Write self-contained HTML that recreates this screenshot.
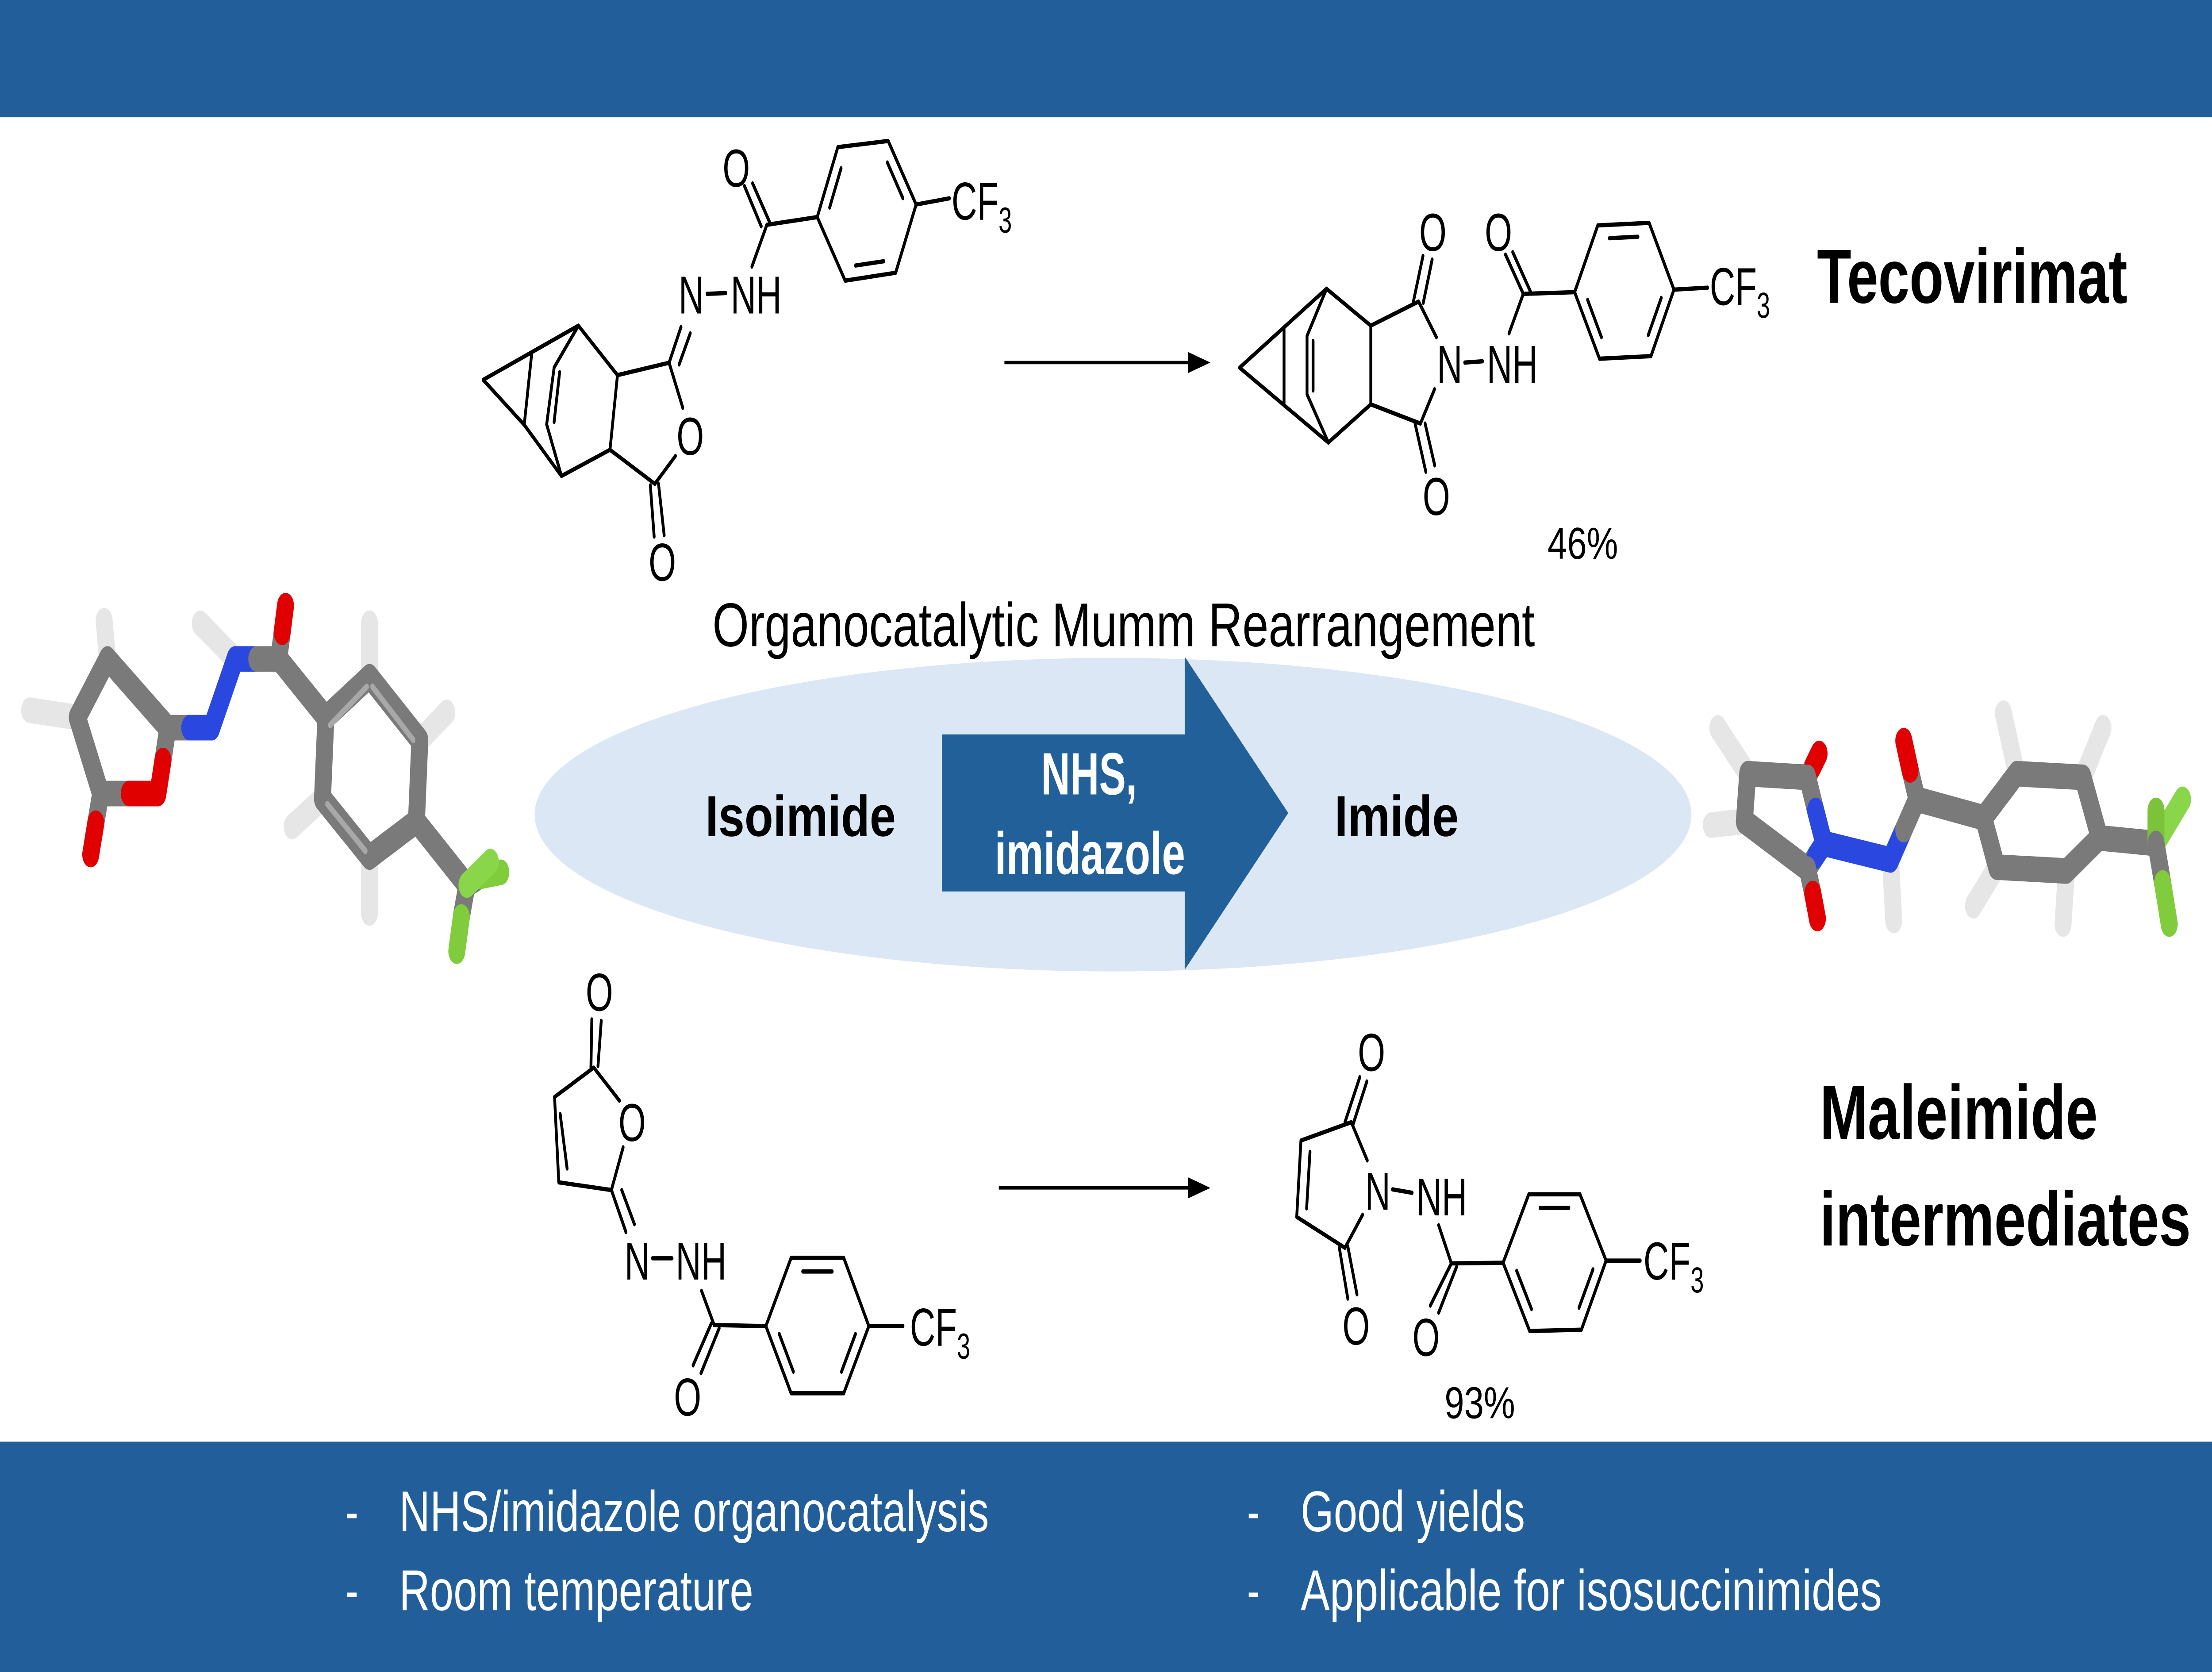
<!DOCTYPE html>
<html><head><meta charset="utf-8"><style>
html,body{margin:0;padding:0;background:#fff;width:100%;height:100%;overflow:hidden;}
svg{display:block;width:100vw;height:100vh;}
text{font-family:"Liberation Sans",Arial,sans-serif;}
</style></head><body>
<svg viewBox="0 0 1568 784" preserveAspectRatio="none" xmlns="http://www.w3.org/2000/svg">
<rect x="0" y="0" width="1568" height="784" fill="#fff"/>
<rect x="0" y="0" width="1568" height="55" fill="#225f9a"/>
<rect x="0" y="676" width="1568" height="108" fill="#225f9a"/>

<ellipse cx="789" cy="382" rx="410" ry="73.5" fill="#dbe7f4"/>
<polygon points="667.8,344.4 839.8,344.4 839.8,307.9 913.2,381.2 839.8,454.7 839.8,418 667.8,418" fill="#22609a"/>
<text x="772" y="372.5" font-size="28" font-weight="bold" fill="#fff" text-anchor="middle" textLength="68" lengthAdjust="spacingAndGlyphs">NHS,</text>
<text x="772.6" y="409.8" font-size="28" font-weight="bold" fill="#fff" text-anchor="middle" textLength="135" lengthAdjust="spacingAndGlyphs">imidazole</text>
<text x="500" y="392" font-size="27" font-weight="bold" fill="#000" textLength="135" lengthAdjust="spacingAndGlyphs">Isoimide</text>
<text x="946" y="392" font-size="27" font-weight="bold" fill="#000" textLength="88" lengthAdjust="spacingAndGlyphs">Imide</text>
<text x="505" y="303" font-size="29" fill="#000" textLength="583" lengthAdjust="spacingAndGlyphs">Organocatalytic Mumm Rearrangement</text>

<text x="1288" y="142" font-size="36" font-weight="bold" fill="#000" textLength="220" lengthAdjust="spacingAndGlyphs">Tecovirimat</text>
<text x="1290" y="534" font-size="36" font-weight="bold" fill="#000" textLength="197" lengthAdjust="spacingAndGlyphs">Maleimide</text>
<text x="1290" y="584" font-size="36" font-weight="bold" fill="#000" textLength="263" lengthAdjust="spacingAndGlyphs">intermediates</text>

<text x="1097" y="262" font-size="21" fill="#000" textLength="50" lengthAdjust="spacingAndGlyphs">46%</text>
<text x="1024" y="665" font-size="21" fill="#000" textLength="50" lengthAdjust="spacingAndGlyphs">93%</text>

<g fill="#fff" font-size="27">
<text x="245" y="718">-</text>
<text x="283" y="718" textLength="418" lengthAdjust="spacingAndGlyphs">NHS/imidazole organocatalysis</text>
<text x="245" y="755">-</text>
<text x="283" y="755" textLength="251" lengthAdjust="spacingAndGlyphs">Room temperature</text>
<text x="884" y="718">-</text>
<text x="922" y="718" textLength="159" lengthAdjust="spacingAndGlyphs">Good yields</text>
<text x="884" y="755">-</text>
<text x="922" y="755" textLength="412" lengthAdjust="spacingAndGlyphs">Applicable for isosuccinimides</text>
</g>

<g stroke="#000" stroke-width="1.6">
<line x1="712" y1="170" x2="846" y2="170"/>
<line x1="708" y1="557" x2="846" y2="557"/>
</g>
<polygon points="858,170 842,165 842,175" fill="#000"/>
<polygon points="858,557 842,552 842,562" fill="#000"/>

<!-- Molecule 1 -->
<g stroke="#000" stroke-width="2" fill="none" stroke-linecap="round" stroke-linejoin="round">
<polygon points="579.3,101.8 593.9,69 629.6,66.1 649.4,95.9 634.9,127.9 599.1,131.6"/>
<line x1="588.1" y1="97.3" x2="596.2" y2="78.9"/>
<line x1="629" y1="76.2" x2="640" y2="92.9"/>
<line x1="626.5" y1="122.5" x2="606.5" y2="124.5"/>
<line x1="649.4" y1="95.9" x2="673" y2="93"/>
<line x1="579.3" y1="101.8" x2="543.6" y2="105.4"/>
<line x1="527.7" y1="87.2" x2="539.6" y2="106.1"/>
<line x1="533.5" y1="86" x2="545.7" y2="104.4"/>
<line x1="543.6" y1="105.4" x2="533" y2="125"/>
<line x1="501.2" y1="137.8" x2="514.5" y2="137.4"/>
<line x1="482.7" y1="153.4" x2="474.3" y2="170.1"/>
<line x1="489.3" y1="156.3" x2="481.4" y2="170.9"/>
<line x1="474.3" y1="170.1" x2="437.7" y2="175.9"/>
<line x1="474.3" y1="170.1" x2="484" y2="191.2"/>
<line x1="478.8" y1="213.8" x2="464.2" y2="226.9"/>
<line x1="461" y1="227.6" x2="463.7" y2="251.6"/>
<line x1="466.8" y1="226.9" x2="470.8" y2="250.9"/>
<line x1="437.7" y1="175.9" x2="432.4" y2="210.9"/>
<line x1="432.4" y1="210.9" x2="464.2" y2="226.9"/>
<line x1="437.7" y1="175.9" x2="410" y2="152.7"/>
<line x1="432.4" y1="210.9" x2="398" y2="223.2"/>
<polyline points="410,152.7 392.8,172.3 387.5,199 398,223.2"/>
<line x1="396.7" y1="174.5" x2="392.8" y2="197.8"/>
<line x1="410" y1="152.7" x2="342.5" y2="178.1"/>
<line x1="342.5" y1="178.1" x2="371.6" y2="199.2"/>
<line x1="371.6" y1="199.2" x2="376.9" y2="165.8"/>
<line x1="371.6" y1="199.2" x2="398" y2="223.2"/>
</g>
<g font-size="25" fill="#000" text-anchor="middle">
<text x="521.9" y="87.5">O</text>
<text x="490" y="147">N</text>
<text x="536" y="147">NH</text>
<text x="489.3" y="213.3">O</text>
<text x="469.5" y="272.3">O</text>
<text x="674.5" y="103" text-anchor="start">CF<tspan font-size="17" dy="6">3</tspan></text>
</g>

<!-- Molecule 2 -->
<g stroke="#000" stroke-width="2" fill="none" stroke-linecap="round" stroke-linejoin="round">
<line x1="878.7" y1="172.4" x2="940.3" y2="135.4"/>
<line x1="878.7" y1="172.4" x2="941.6" y2="207.5"/>
<line x1="910.2" y1="153.9" x2="910.2" y2="189"/>
<polyline points="940.3,135.4 926.5,157.5 926.5,184.9 941.6,207.5"/>
<line x1="930.8" y1="159.9" x2="930.8" y2="183.1"/>
<line x1="940.3" y1="135.4" x2="971.7" y2="152.7"/>
<line x1="941.6" y1="207.5" x2="971.7" y2="189.6"/>
<line x1="971.7" y1="152.7" x2="971.7" y2="189.6"/>
<line x1="971.7" y1="152.7" x2="1005.6" y2="141.4"/>
<line x1="971.7" y1="189.6" x2="1006.9" y2="198.6"/>
<line x1="1005.6" y1="141.4" x2="1018.2" y2="158.1"/>
<line x1="1006.9" y1="198.6" x2="1016.9" y2="182.5"/>
<line x1="1001.9" y1="141.4" x2="1008.7" y2="120"/>
<line x1="1008.9" y1="142" x2="1015.2" y2="121.7"/>
<line x1="1003.1" y1="198.6" x2="1010.7" y2="221.2"/>
<line x1="1010.2" y1="198.6" x2="1017" y2="218.2"/>
<line x1="1038.3" y1="170" x2="1050.9" y2="169.4"/>
<line x1="1069.7" y1="156.3" x2="1079.8" y2="137.8"/>
<line x1="1067.2" y1="119.4" x2="1079.8" y2="137.8"/>
<line x1="1072.3" y1="118.2" x2="1084.8" y2="136.6"/>
<line x1="1079.8" y1="137.8" x2="1116.2" y2="137"/>
<polygon points="1116.2,137 1132.6,105.7 1169,104.5 1186.6,135.8 1170.3,167 1133.8,168.2"/>
<line x1="1140.8" y1="111.7" x2="1161.1" y2="111"/>
<line x1="1177.6" y1="139.7" x2="1168.4" y2="157.1"/>
<line x1="1135.2" y1="158.1" x2="1125.4" y2="140.6"/>
<line x1="1186.6" y1="135.8" x2="1210.5" y2="134.9"/>
</g>
<g font-size="25" fill="#000" text-anchor="middle">
<text x="1015.7" y="117.6">O</text>
<text x="1062.2" y="117.6">O</text>
<text x="1027.6" y="179.5">N</text>
<text x="1072" y="179.5">NH</text>
<text x="1018.2" y="241.5">O</text>
<text x="1212" y="143" text-anchor="start">CF<tspan font-size="17" dy="6">3</tspan></text>
</g>

<!-- Molecule 3 -->
<g stroke="#000" stroke-width="2" fill="none" stroke-linecap="round" stroke-linejoin="round">
<polyline points="439.1,516.1 420.9,500.6 393.1,514.4 396.1,554.4 433.4,558 441.7,538"/>
<line x1="397.1" y1="522.4" x2="402" y2="547.9"/>
<line x1="418.9" y1="500.6" x2="419.5" y2="478"/>
<line x1="423.9" y1="499.8" x2="426.2" y2="478.7"/>
<line x1="433.4" y1="558" x2="443.7" y2="577.7"/>
<line x1="440.7" y1="558" x2="449.7" y2="574"/>
<line x1="462.5" y1="590" x2="476.4" y2="590"/>
<line x1="497.3" y1="605.3" x2="506.2" y2="621.3"/>
<line x1="504.2" y1="620.6" x2="491.3" y2="640.2"/>
<line x1="509.8" y1="622.8" x2="496.9" y2="643.9"/>
<line x1="506.2" y1="621.3" x2="542.9" y2="621.8"/>
<polygon points="542.9,621.8 560.8,589.8 598.1,589.8 615.9,621.8 598.1,653.3 560.8,653.3"/>
<line x1="569" y1="596.2" x2="589.9" y2="596.2"/>
<line x1="606.4" y1="625.5" x2="596.5" y2="643.2"/>
<line x1="562.4" y1="643.2" x2="552.4" y2="625.5"/>
<line x1="615.9" y1="621.8" x2="640.1" y2="621.8"/>
</g>
<g font-size="25" fill="#000" text-anchor="middle">
<text x="424.9" y="473.9">O</text>
<text x="448.1" y="535">O</text>
<text x="451.7" y="600">N</text>
<text x="497" y="600">NH</text>
<text x="487.4" y="663.8">O</text>
<text x="645" y="631" text-anchor="start">CF<tspan font-size="17" dy="6">3</tspan></text>
</g>

<!-- Molecule 4 -->
<g stroke="#000" stroke-width="2" fill="none" stroke-linecap="round" stroke-linejoin="round">
<polyline points="969.2,544.1 957.9,526.2 922.2,534.8 919.2,570.6 953.4,585.1 965.9,569.6"/>
<line x1="928.6" y1="540.1" x2="926.2" y2="566.6"/>
<line x1="953.4" y1="526.2" x2="963.9" y2="505.1"/>
<line x1="959.3" y1="526.9" x2="968.9" y2="507.1"/>
<line x1="949.4" y1="585.1" x2="955.4" y2="608.9"/>
<line x1="955.4" y1="584.4" x2="961.9" y2="606.9"/>
<line x1="987.1" y1="557.7" x2="1001" y2="559.3"/>
<line x1="1019.8" y1="574.5" x2="1028.8" y2="592.4"/>
<line x1="1028.8" y1="592.4" x2="1013.9" y2="612.2"/>
<line x1="1032.7" y1="593.7" x2="1019.8" y2="615.5"/>
<line x1="1028.8" y1="592.4" x2="1065.5" y2="592.1"/>
<polygon points="1065.5,592.1 1083.7,560 1120,560 1138.5,591.1 1121,623.5 1084.3,624.1"/>
<line x1="1091.7" y1="566.4" x2="1112.1" y2="566.4"/>
<line x1="1129.2" y1="595.2" x2="1119.3" y2="613.2"/>
<line x1="1085.6" y1="613.8" x2="1075.1" y2="595.9"/>
<line x1="1138.5" y1="591.1" x2="1162.7" y2="591.1"/>
</g>
<g font-size="25" fill="#000" text-anchor="middle">
<text x="972.2" y="502.2">O</text>
<text x="976.6" y="567.2">N</text>
<text x="1022" y="569.9">NH</text>
<text x="961.3" y="630.5">O</text>
<text x="1010.9" y="635.8">O</text>
<text x="1165" y="600" text-anchor="start">CF<tspan font-size="17" dy="6">3</tspan></text>
</g>

<!-- 3D left -->
<g stroke-linecap="round" stroke-width="12">
<line x1="76.2" y1="309" x2="73.8" y2="291.1" stroke="#e6e6e6"/>
<line x1="54.8" y1="336.4" x2="21" y2="333" stroke="#e6e6e6"/>
<line x1="166.7" y1="309" x2="142" y2="292.3" stroke="#e6e6e6"/>
<line x1="261.9" y1="317.3" x2="261.9" y2="292.3" stroke="#e6e6e6"/>
<line x1="297.6" y1="347.1" x2="316.7" y2="334" stroke="#e6e6e6"/>
<line x1="228.6" y1="374.5" x2="207.1" y2="387.6" stroke="#e6e6e6"/>
<line x1="261.9" y1="401.9" x2="261.9" y2="428.1" stroke="#e6e6e6"/>
<line x1="76.2" y1="309" x2="54.8" y2="336.4" stroke="#7a7a7a"/>
<line x1="76.2" y1="309" x2="119" y2="341.2" stroke="#7a7a7a"/>
<line x1="54.8" y1="336.4" x2="71.4" y2="372.1" stroke="#7a7a7a"/>
<line x1="71.4" y1="372.1" x2="91.6" y2="372.1" stroke="#7a7a7a"/>
<line x1="91.6" y1="372.1" x2="111.9" y2="372.1" stroke="#e00000"/>
<line x1="119" y1="341.2" x2="115.5" y2="356.6" stroke="#7a7a7a"/>
<line x1="115.5" y1="356.6" x2="111.9" y2="372.1" stroke="#e00000"/>
<line x1="71.4" y1="372.1" x2="67.9" y2="386" stroke="#7a7a7a"/>
<line x1="67.9" y1="386" x2="64.3" y2="400.7" stroke="#e00000"/>
<line x1="119" y1="341.2" x2="134.5" y2="341.2" stroke="#7a7a7a"/>
<line x1="134.5" y1="341.2" x2="150" y2="341.2" stroke="#2a48e0"/>
<line x1="150" y1="341.2" x2="166.7" y2="309" stroke="#2a48e0"/>
<line x1="166.7" y1="309" x2="182" y2="309" stroke="#2a48e0"/>
<line x1="182" y1="309" x2="197.6" y2="309" stroke="#7a7a7a"/>
<line x1="197.6" y1="309" x2="200" y2="296.5" stroke="#7a7a7a"/>
<line x1="200" y1="296.5" x2="202.4" y2="284" stroke="#e00000"/>
<line x1="197.6" y1="309" x2="231" y2="336.4" stroke="#7a7a7a"/>
<polygon points="231,336.4 261.9,317.3 297.6,347.1 295.2,385.2 261.9,401.9 228.6,374.5" fill="none" stroke="#7a7a7a" stroke-linejoin="round"/>
<line x1="295.2" y1="385.2" x2="331" y2="415" stroke="#7a7a7a"/>
<line x1="331" y1="415" x2="340" y2="411" stroke="#7a7a7a"/>
<line x1="340" y1="411" x2="355" y2="409" stroke="#80cc3c"/>
<line x1="331" y1="415" x2="327" y2="430" stroke="#7a7a7a"/>
<line x1="327" y1="430" x2="323.8" y2="446" stroke="#80cc3c"/>
<line x1="331" y1="415" x2="347.6" y2="404" stroke="#8ad64a"/>
</g>
<g stroke-linecap="round" stroke-width="3" stroke="#fff" opacity="0.35">
<line x1="234" y1="340" x2="260" y2="322"/>
<line x1="264" y1="322" x2="293" y2="347"/>
<line x1="232" y1="377" x2="259" y2="399"/>
</g>

<!-- 3D right -->
<g stroke-linecap="round" stroke-width="12">
<line x1="1238.9" y1="362.8" x2="1217.7" y2="341.3" stroke="#e6e6e6"/>
<line x1="1236.5" y1="385.1" x2="1213" y2="386.9" stroke="#e6e6e6"/>
<line x1="1340.1" y1="403.2" x2="1342.4" y2="431.6" stroke="#e6e6e6"/>
<line x1="1429.5" y1="362.8" x2="1420.1" y2="334.4" stroke="#e6e6e6"/>
<line x1="1476.5" y1="364.5" x2="1490.7" y2="341.3" stroke="#e6e6e6"/>
<line x1="1415.4" y1="406.6" x2="1398.9" y2="424.7" stroke="#e6e6e6"/>
<line x1="1464.8" y1="408.4" x2="1462.4" y2="433.3" stroke="#e6e6e6"/>
<line x1="1238.9" y1="362.8" x2="1236.5" y2="385.1" stroke="#7a7a7a"/>
<line x1="1238.9" y1="362.8" x2="1281.3" y2="364.5" stroke="#7a7a7a"/>
<line x1="1236.5" y1="385.1" x2="1281.3" y2="407.5" stroke="#7a7a7a"/>
<line x1="1281.3" y1="364.5" x2="1285.3" y2="359" stroke="#7a7a7a"/>
<line x1="1285.3" y1="359" x2="1289.5" y2="353.3" stroke="#e00000"/>
<line x1="1281.3" y1="364.5" x2="1287" y2="380" stroke="#7a7a7a"/>
<line x1="1287" y1="380" x2="1293" y2="395.5" stroke="#2a48e0"/>
<line x1="1281.3" y1="407.5" x2="1287" y2="401.5" stroke="#7a7a7a"/>
<line x1="1287" y1="401.5" x2="1293" y2="395.5" stroke="#2a48e0"/>
<line x1="1281.3" y1="407.5" x2="1285" y2="419" stroke="#7a7a7a"/>
<line x1="1285" y1="419" x2="1288.3" y2="430.7" stroke="#e00000"/>
<line x1="1293" y1="395.5" x2="1340.1" y2="403.2" stroke="#2a48e0"/>
<line x1="1340.1" y1="403.2" x2="1349.5" y2="389" stroke="#2a48e0"/>
<line x1="1349.5" y1="389" x2="1358.9" y2="374.8" stroke="#7a7a7a"/>
<line x1="1358.9" y1="374.8" x2="1354" y2="361" stroke="#7a7a7a"/>
<line x1="1354" y1="361" x2="1349.5" y2="347.3" stroke="#e00000"/>
<line x1="1358.9" y1="374.8" x2="1406" y2="383.4" stroke="#7a7a7a"/>
<polygon points="1406,383.4 1429.5,362.8 1476.5,364.5 1488.3,392.9 1464.8,408.4 1415.4,406.6" fill="none" stroke="#7a7a7a" stroke-linejoin="round"/>
<line x1="1488.3" y1="392.9" x2="1528.3" y2="395.5" stroke="#7a7a7a"/>
<line x1="1528.3" y1="395.5" x2="1547.1" y2="374.8" stroke="#8ad64a"/>
<line x1="1528.3" y1="395.5" x2="1528.3" y2="380" stroke="#7cc23a"/>
<line x1="1528.3" y1="395.5" x2="1533" y2="414" stroke="#7a7a7a"/>
<line x1="1533" y1="414" x2="1537.7" y2="433.3" stroke="#80cc3c"/>
</g>
</svg>
</body></html>
